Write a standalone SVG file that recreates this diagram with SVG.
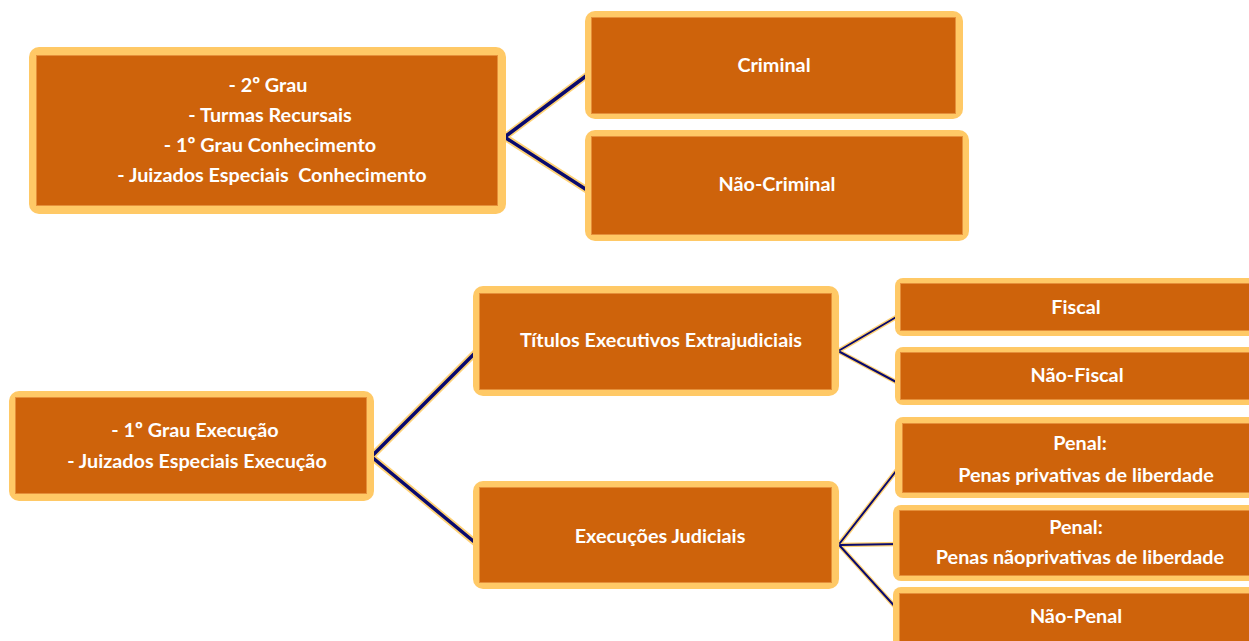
<svg xmlns="http://www.w3.org/2000/svg" width="1249" height="641" viewBox="0 0 1249 641">
<style>
.outer{fill:#FFC966;}
.inner{fill:#CE630B;stroke:#E5903A;stroke-width:1;}
.t{font-family:Lato,"Open Sans",sans-serif;font-weight:bold;font-size:19.8px;fill:#FFFFFF;text-anchor:middle;}
.ch{stroke:#FFD275;stroke-linecap:round;fill:none;}
.cn{stroke:#0A0A6E;stroke-linecap:round;fill:none;}
</style>
<rect width="1249" height="641" fill="#FFFFFF"/>
<g id="connectors">
<g class="ch" stroke-width="7">
<line x1="506" y1="136" x2="590" y2="73"/>
<line x1="506" y1="138" x2="590" y2="192"/>
<line x1="373" y1="455" x2="478" y2="350"/>
<line x1="373" y1="458" x2="478" y2="545"/>
</g>
<g class="cn" stroke-width="3.5">
<line x1="506" y1="136" x2="590" y2="73"/>
<line x1="506" y1="138" x2="590" y2="192"/>
<line x1="373" y1="455" x2="478" y2="350"/>
<line x1="373" y1="458" x2="478" y2="545"/>
</g>
<g class="ch" stroke-width="4.5">
<line x1="840" y1="350" x2="898" y2="316"/>
<line x1="840" y1="352" x2="898" y2="383"/>
<line x1="840" y1="543" x2="900" y2="466"/>
<line x1="840" y1="545" x2="900" y2="544"/>
<line x1="840" y1="546" x2="898" y2="610"/>
</g>
<g class="cn" stroke-width="2">
<line x1="840" y1="350" x2="898" y2="316"/>
<line x1="840" y1="352" x2="898" y2="383"/>
<line x1="840" y1="543" x2="900" y2="466"/>
<line x1="840" y1="545" x2="900" y2="544"/>
<line x1="840" y1="546" x2="898" y2="610"/>
</g>
</g>
<g id="node-graus">
<rect class="outer" x="29" y="47" width="477" height="167" rx="10"/>
<rect class="inner" x="36.5" y="55.5" width="461" height="150"/>
<text class="t" x="268" y="92">- 2º Grau</text>
<text class="t" x="270" y="122">- Turmas Recursais</text>
<text class="t" x="270" y="152">- 1º Grau Conhecimento</text>
<text class="t" x="272" y="182" xml:space="preserve">- Juizados Especiais  Conhecimento</text>
</g>
<g id="node-criminal">
<rect class="outer" x="585" y="11" width="378" height="108" rx="10"/>
<rect class="inner" x="591.5" y="17.5" width="364" height="96"/>
<text class="t" x="774" y="72">Criminal</text>
</g>
<g id="node-nao-criminal">
<rect class="outer" x="585" y="130" width="384" height="111" rx="10"/>
<rect class="inner" x="591.5" y="136.5" width="371" height="98"/>
<text class="t" x="777" y="191">Não-Criminal</text>
</g>
<g id="node-execucao">
<rect class="outer" x="9" y="391" width="365" height="110" rx="10"/>
<rect class="inner" x="15.5" y="397.5" width="351" height="96"/>
<text class="t" x="195" y="437">- 1º Grau Execução</text>
<text class="t" x="197" y="468">- Juizados Especiais Execução</text>
</g>
<g id="node-titulos">
<rect class="outer" x="473" y="286" width="366" height="110" rx="10"/>
<rect class="inner" x="479.5" y="293.5" width="352" height="96"/>
<text class="t" x="661" y="347">Títulos Executivos Extrajudiciais</text>
</g>
<g id="node-execucoes">
<rect class="outer" x="473" y="481" width="366" height="108" rx="10"/>
<rect class="inner" x="479.5" y="487.5" width="352" height="95"/>
<text class="t" x="660" y="543">Execuções Judiciais</text>
</g>
<g id="node-fiscal">
<rect class="outer" x="895" y="278" width="364" height="58" rx="8"/>
<rect class="inner" x="900.5" y="283.5" width="360" height="47"/>
<text class="t" x="1076" y="314">Fiscal</text>
</g>
<g id="node-nao-fiscal">
<rect class="outer" x="895" y="347" width="364" height="58" rx="8"/>
<rect class="inner" x="900.5" y="352.5" width="360" height="47"/>
<text class="t" x="1077" y="382">Não-Fiscal</text>
</g>
<g id="node-penal-privativas">
<rect class="outer" x="895" y="417" width="364" height="81" rx="8"/>
<rect class="inner" x="902.5" y="423.5" width="360" height="69"/>
<text class="t" x="1080" y="450">Penal:</text>
<text class="t" x="1086" y="482">Penas privativas de liberdade</text>
</g>
<g id="node-penal-nao-privativas">
<rect class="outer" x="893" y="505" width="366" height="76" rx="8"/>
<rect class="inner" x="899.5" y="510.5" width="360" height="65"/>
<text class="t" x="1076" y="534">Penal:</text>
<text class="t" x="1080" y="564">Penas nãoprivativas de liberdade</text>
</g>
<g id="node-nao-penal">
<rect class="outer" x="893" y="587" width="366" height="70" rx="8"/>
<rect class="inner" x="899.5" y="593.5" width="360" height="60"/>
<text class="t" x="1076" y="623">Não-Penal</text>
</g>
</svg>
